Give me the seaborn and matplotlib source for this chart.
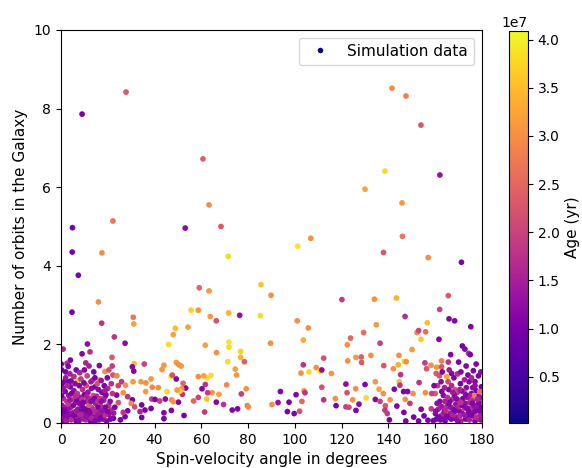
import numpy as np
import pandas as pd
import matplotlib
matplotlib.use("Agg")
import matplotlib.pyplot as plt
from matplotlib.colors import Normalize
from matplotlib.cm import ScalarMappable
from matplotlib.lines import Line2D
import seaborn as sns

# (spin-velocity angle [deg], number of orbits, age [1e7 yr])
upper_points = [
    (9.0, 7.86, 1.0), (27.8, 8.42, 2.3), (60.7, 6.72, 2.4), (63.3, 5.55, 3.0),
    (68.4, 5.00, 2.3), (53.1, 4.96, 1.2), (22.2, 5.14, 2.7), (4.9, 4.97, 1.0),
    (4.8, 4.35, 1.0), (7.4, 3.76, 1.0), (17.5, 4.33, 3.0), (71.5, 4.24, 3.8),
    (101.2, 4.50, 3.9), (106.8, 4.70, 3.0), (130.0, 5.95, 3.2), (138.5, 6.41, 3.8),
    (141.5, 8.52, 3.0), (147.5, 8.32, 2.8), (153.9, 7.58, 2.3), (162.0, 6.31, 1.3),
    (145.8, 5.60, 3.1), (146.0, 4.75, 2.7), (137.9, 4.34, 2.3), (157.0, 4.21, 3.0),
    (171.2, 4.09, 1.0), (59.1, 3.44, 2.5), (63.3, 3.36, 3.1), (85.5, 3.52, 3.6),
    (89.8, 3.25, 3.0), (16.0, 3.08, 3.0), (4.7, 2.82, 1.0), (55.6, 2.87, 3.7),
    (58.7, 2.87, 3.1), (71.7, 2.80, 3.4), (76.4, 2.74, 1.3), (85.2, 2.73, 3.8),
    (63.8, 2.71, 3.1), (66.4, 2.60, 2.2), (30.9, 2.69, 2.7), (31.1, 2.52, 3.2),
    (17.4, 2.54, 1.8), (54.3, 2.44, 3.2), (48.9, 2.41, 3.5), (48.0, 2.25, 3.2),
    (120.1, 3.14, 1.9), (134.0, 3.15, 3.0), (143.4, 3.18, 3.4), (165.6, 3.24, 2.3),
    (161.9, 2.89, 2.0), (147.1, 2.71, 1.7), (165.9, 2.65, 1.1), (168.3, 2.60, 1.1),
    (175.2, 2.45, 1.0), (101.0, 2.60, 3.0), (105.7, 2.42, 3.0), (134.8, 2.50, 3.1),
    (156.6, 2.55, 3.5),
]

middle_points = [
    (46.0, 2.00, 3.8), (22.8, 2.19, 1.8), (27.4, 2.03, 1.2), (0.9, 1.88, 1.6),
    (11.3, 2.01, 1.2), (9.0, 1.76, 1.1), (12.4, 1.81, 1.7), (61.7, 1.98, 3.2),
    (66.5, 1.79, 3.0), (71.8, 2.06, 3.9), (71.8, 1.93, 3.8), (76.8, 1.82, 3.7),
    (76.8, 1.67, 3.4), (78.4, 1.56, 2.4), (71.3, 1.56, 3.8), (89.6, 2.03, 3.0),
    (74.5, 1.37, 3.2), (75.1, 1.22, 3.1), (64.1, 1.21, 3.8), (62.5, 1.15, 3.8),
    (43.2, 1.36, 3.1), (44.0, 1.47, 3.1), (47.0, 1.18, 3.9), (47.6, 1.22, 2.2),
    (49.3, 1.54, 3.1), (50.4, 1.48, 3.0), (51.4, 1.45, 3.1), (38.5, 1.12, 3.1),
    (35.6, 1.50, 2.0), (31.3, 1.51, 3.5), (30.5, 1.43, 1.2), (31.1, 1.32, 1.1),
    (30.8, 1.05, 3.1), (34.2, 1.05, 3.1), (36.3, 1.02, 3.0), (21.8, 1.67, 2.3),
    (21.9, 1.45, 1.9), (18.8, 1.31, 3.0), (20.5, 1.35, 2.2), (22.2, 1.22, 2.2),
    (23.9, 1.20, 2.9), (25.9, 1.05, 1.8), (27.6, 0.96, 3.0), (16.4, 1.46, 1.1),
    (10.6, 1.53, 1.6), (4.0, 1.60, 1.0), (2.6, 1.52, 1.6), (3.1, 1.44, 1.1),
    (0.1, 1.50, 1.0), (0.3, 1.35, 1.0), (1.7, 1.07, 1.0), (4.3, 1.07, 1.1),
    (7.1, 1.07, 3.5), (13.5, 1.09, 1.9), (16.4, 1.09, 3.0), (49.3, 1.12, 1.1),
    (58.7, 1.18, 3.0), (61.0, 1.20, 3.2), (103.6, 2.11, 3.3), (129.4, 2.30, 2.6),
    (123.8, 2.16, 2.5), (122.4, 1.99, 3.0), (136.4, 2.03, 2.0), (152.2, 2.30, 3.0),
    (152.9, 2.35, 2.0), (155.9, 2.32, 2.6), (153.9, 2.13, 3.6), (161.6, 2.13, 1.1),
    (171.6, 1.96, 1.0), (172.7, 1.88, 1.1), (174.3, 1.77, 1.7), (175.0, 1.74, 1.0),
    (150.1, 1.87, 3.1), (144.5, 1.72, 3.0), (146.8, 1.57, 3.8), (147.6, 1.56, 3.0),
    (144.2, 1.48, 3.4), (138.0, 1.46, 2.3), (142.1, 1.38, 3.0), (145.2, 1.23, 1.8),
    (132.5, 1.72, 3.0), (126.1, 1.67, 3.1), (128.4, 1.68, 2.4), (128.5, 1.54, 2.3),
    (122.6, 1.58, 3.0), (112.3, 1.65, 2.2), (103.6, 1.48, 1.8), (102.6, 1.27, 3.0),
    (109.1, 1.41, 3.0), (110.9, 1.31, 3.8), (111.5, 1.35, 1.2), (106.0, 1.30, 3.8),
    (115.6, 1.26, 3.1), (155.6, 1.53, 1.9), (156.3, 1.38, 2.3), (158.2, 1.47, 3.0),
    (160.6, 1.42, 3.1), (162.7, 1.43, 2.3), (162.7, 1.58, 2.8), (165.6, 1.55, 1.8),
    (166.6, 1.74, 1.1), (173.2, 1.45, 1.1), (176.3, 1.33, 1.0), (160.4, 1.26, 2.3),
    (164.9, 1.18, 3.2), (167.0, 1.26, 1.1), (134.4, 1.05, 3.1), (144.6, 1.05, 3.5),
    (153.1, 1.03, 1.8),
]

lower_points = [
    (70.8, 0.97, 2.9), (79.2, 0.87, 3.0), (64.6, 0.77, 3.1), (67.5, 0.73, 3.2),
    (62.3, 0.61, 3.6), (62.7, 0.77, 1.9), (66.4, 0.53, 1.1), (69.5, 0.47, 1.8),
    (73.2, 0.33, 1.1), (75.5, 0.36, 1.1), (79.7, 0.44, 2.6), (80.1, 0.41, 3.0),
    (90.2, 0.47, 3.0), (77.1, 0.74, 1.9), (61.7, 0.98, 1.8), (60.3, 0.87, 1.1),
    (58.7, 0.65, 2.0), (56.7, 0.56, 2.5), (61.4, 0.28, 1.9), (52.6, 0.19, 1.0),
    (47.2, 0.32, 1.0), (44.0, 0.26, 1.1), (44.0, 0.11, 1.0), (50.2, 0.53, 1.1),
    (51.9, 0.73, 1.8), (53.3, 0.89, 1.1), (52.2, 1.01, 2.5), (51.6, 0.87, 3.0),
    (50.9, 0.81, 3.7), (49.6, 0.84, 3.1), (47.3, 0.59, 3.0), (48.0, 0.54, 3.1),
    (45.3, 0.80, 3.8), (42.2, 0.56, 2.0), (44.6, 0.61, 1.2), (41.6, 0.90, 3.0),
    (38.8, 0.61, 1.9), (40.2, 0.60, 1.1), (39.0, 0.91, 2.9), (36.2, 0.80, 3.1),
    (23.8, 0.71, 1.1), (26.6, 0.77, 3.0), (28.5, 0.67, 1.8), (30.5, 0.59, 1.0),
    (34.5, 0.46, 1.0), (35.9, 0.33, 1.0), (38.5, 0.37, 1.0), (34.5, 0.14, 1.0),
    (27.4, 0.16, 1.0), (25.4, 0.08, 1.0), (22.4, 0.12, 1.0), (28.5, 0.31, 1.0),
    (26.6, 0.27, 1.8), (33.8, 0.29, 1.5), (21.4, 0.33, 1.7), (20.4, 0.45, 1.8),
    (18.8, 0.67, 1.6), (24.5, 0.52, 2.2), (30.0, 0.50, 3.0), (31.5, 0.41, 2.2),
    (111.5, 0.91, 2.2), (103.9, 0.82, 3.1), (104.3, 0.77, 1.8), (100.5, 0.72, 1.1),
    (93.8, 0.80, 1.1), (92.8, 0.52, 1.3), (97.5, 0.53, 1.0), (103.0, 0.55, 2.5),
    (96.8, 0.29, 1.0), (99.7, 0.24, 1.0), (102.0, 0.30, 2.2), (112.3, 0.59, 1.8),
    (117.3, 0.62, 3.0), (117.6, 0.44, 1.0), (121.8, 0.99, 1.2), (122.3, 0.77, 2.2),
    (126.0, 0.87, 3.0), (130.0, 0.98, 1.1), (124.7, 0.59, 3.0), (121.8, 0.41, 2.0),
    (123.1, 0.40, 2.1), (126.1, 0.32, 1.1), (127.4, 0.48, 1.2), (130.4, 0.64, 3.8),
    (136.0, 0.86, 3.2), (137.8, 0.75, 3.0), (142.5, 0.86, 1.1), (144.9, 0.96, 1.8),
    (146.5, 0.80, 1.0), (148.2, 0.80, 1.1), (150.5, 0.75, 3.0), (155.8, 0.77, 3.0),
    (134.4, 0.60, 1.1), (136.4, 0.55, 2.0), (138.7, 0.44, 2.3), (140.7, 0.59, 3.0),
    (143.6, 0.43, 1.1), (147.2, 0.60, 3.0), (149.2, 0.50, 1.9), (138.5, 0.33, 1.9),
    (139.5, 0.24, 1.9), (140.4, 0.08, 1.0), (146.6, 0.27, 1.0), (147.4, 0.05, 1.0),
    (150.8, 0.15, 1.0), (152.9, 0.05, 1.0), (155.2, 0.18, 1.0), (156.9, 0.07, 1.0),
    (159.2, 0.06, 1.0), (154.0, 0.35, 1.1), (158.3, 0.36, 1.9), (160.1, 0.24, 1.0),
]

left_cluster = [
    (0.5, 0.05, 1.0), (1.2, 0.15, 1.4), (2.0, 0.30, 1.1), (2.8, 0.08, 1.6), (3.5, 0.22, 0.9),
    (4.2, 0.40, 1.5), (5.0, 0.12, 1.2), (5.8, 0.28, 1.7), (6.5, 0.05, 1.0), (7.2, 0.35, 1.3),
    (8.0, 0.18, 1.8), (8.8, 0.45, 1.1), (9.5, 0.10, 1.5), (10.3, 0.30, 1.0), (11.0, 0.55, 1.6),
    (11.8, 0.20, 1.2), (12.5, 0.06, 0.9), (13.3, 0.38, 1.7), (14.0, 0.15, 1.1), (14.8, 0.50, 1.4),
    (15.5, 0.25, 1.0), (16.3, 0.08, 1.3), (17.0, 0.42, 1.8), (17.8, 0.18, 1.0), (18.6, 0.32, 1.5),
    (19.5, 0.05, 1.1), (0.3, 0.45, 1.2), (1.0, 0.62, 1.6), (1.8, 0.80, 1.0), (2.5, 0.55, 1.8),
    (3.3, 0.70, 1.3), (4.0, 0.92, 1.1), (4.8, 0.60, 2.0), (5.5, 0.82, 1.2), (6.3, 0.52, 1.5),
    (7.0, 0.75, 1.9), (7.8, 0.95, 1.1), (8.5, 0.65, 1.4), (9.2, 0.85, 1.7), (10.0, 0.72, 1.0),
    (10.8, 0.95, 2.1), (11.5, 0.78, 1.3), (12.2, 0.62, 1.8), (13.0, 0.88, 1.2), (13.8, 0.70, 2.2),
    (14.5, 0.92, 1.0), (15.2, 0.68, 1.6), (16.0, 0.85, 1.2), (16.8, 0.62, 2.0), (17.5, 0.78, 1.1),
    (18.3, 0.58, 1.5), (19.2, 0.72, 1.0), (0.8, 0.28, 0.8), (1.6, 0.40, 1.5), (2.4, 0.18, 1.2),
    (3.1, 0.50, 1.9), (3.9, 0.10, 1.0), (4.6, 0.25, 1.3), (5.3, 0.45, 1.1), (6.1, 0.20, 1.6),
    (6.8, 0.58, 1.0), (7.5, 0.12, 1.4), (8.3, 0.30, 1.0), (9.0, 0.60, 1.8), (9.8, 0.22, 1.2),
    (10.6, 0.08, 1.6), (11.3, 0.35, 1.0), (12.0, 0.45, 2.3), (12.8, 0.25, 1.3), (13.6, 0.05, 1.0),
    (14.3, 0.30, 1.7), (15.0, 0.10, 1.2), (15.8, 0.40, 1.0), (16.6, 0.28, 1.5), (18.0, 0.10, 1.2),
    (19.0, 0.40, 1.0), (20.5, 0.22, 1.3), (0.5, 1.00, 1.0), (2.0, 1.15, 1.4), (3.5, 1.05, 1.0),
    (5.5, 1.18, 1.7), (6.0, 1.00, 1.2), (8.5, 1.12, 1.9), (9.8, 1.02, 1.1), (11.2, 1.20, 2.0),
    (12.8, 1.05, 1.4), (14.5, 1.15, 1.0), (15.5, 1.00, 2.2), (17.2, 1.08, 1.3), (18.5, 0.95, 1.0),
    (20.0, 0.88, 1.6), (21.0, 0.55, 1.2), (22.0, 0.75, 1.8), (23.0, 0.40, 1.0), (24.5, 0.95, 2.0),
    (19.8, 1.15, 1.1), (21.5, 1.00, 1.7), (0.2, 0.20, 1.1), (1.5, 0.02, 1.0), (3.0, 0.35, 1.3),
    (2.0, 1.30, 1.0), (3.8, 1.25, 1.5), (6.5, 1.35, 1.0), (8.0, 1.28, 1.6), (10.0, 1.35, 1.1),
    (12.0, 1.45, 1.5), (14.0, 1.30, 1.0),
    (0.4, 0.12, 1.3), (1.4, 0.33, 1.0), (2.3, 0.05, 1.5), (3.2, 0.15, 1.2), (4.4, 0.08, 1.7),
    (5.6, 0.20, 1.0), (6.6, 0.30, 1.4), (7.6, 0.05, 1.2), (8.6, 0.22, 1.6), (9.6, 0.38, 1.0),
    (10.8, 0.15, 1.3), (12.2, 0.28, 1.1), (13.2, 0.12, 1.6), (14.6, 0.05, 1.1), (15.6, 0.18, 1.4),
    (16.8, 0.12, 1.0), (17.6, 0.30, 1.3), (18.8, 0.20, 1.7), (19.8, 0.30, 1.1), (21.2, 0.10, 1.0),
    (22.5, 0.25, 1.4), (1.0, 0.88, 1.3), (2.8, 0.95, 1.6), (4.5, 0.75, 1.0), (6.2, 0.68, 1.7),
    (7.8, 0.50, 1.2), (9.5, 0.52, 1.0), (11.0, 0.68, 1.5), (12.8, 0.55, 1.2), (14.2, 0.62, 1.0),
    (15.8, 0.55, 1.8), (17.2, 0.55, 1.2), (18.8, 0.82, 1.4), (0.2, 0.70, 1.0), (3.8, 0.58, 1.4),
]

right_cluster = [
    (160.5, 0.10, 1.0), (161.3, 0.35, 1.5), (162.0, 0.55, 1.1), (162.8, 0.20, 1.7), (163.5, 0.70, 1.2),
    (164.2, 0.05, 0.9), (165.0, 0.42, 1.6), (165.8, 0.85, 1.1), (166.5, 0.25, 1.4), (167.2, 0.60, 1.8),
    (168.0, 0.12, 1.0), (168.8, 0.48, 1.3), (169.5, 0.78, 1.9), (170.3, 0.30, 1.1), (171.0, 0.05, 1.5),
    (171.8, 0.62, 1.0), (172.5, 0.38, 1.7), (173.3, 0.90, 1.2), (174.0, 0.18, 1.0), (174.8, 0.52, 1.6),
    (175.5, 0.75, 1.1), (176.3, 0.28, 1.4), (177.0, 0.05, 1.0), (177.8, 0.45, 1.8), (178.5, 0.68, 1.2),
    (179.3, 0.22, 1.5), (179.7, 0.92, 1.0), (160.0, 0.75, 2.3), (161.0, 0.95, 1.9), (162.5, 1.05, 1.2),
    (163.2, 0.40, 2.0), (164.0, 0.90, 1.5), (164.8, 0.18, 1.1), (165.5, 1.05, 2.1), (166.2, 0.55, 1.0),
    (167.0, 0.95, 1.6), (167.8, 0.35, 1.1), (168.5, 0.85, 2.2), (169.2, 0.15, 1.3), (170.0, 0.58, 1.7),
    (170.8, 1.00, 1.0), (171.5, 0.25, 1.2), (172.2, 0.80, 1.9), (173.0, 0.10, 1.0), (173.8, 0.65, 1.4),
    (174.5, 1.05, 1.1), (175.2, 0.38, 1.8), (176.0, 0.90, 1.2), (176.8, 0.15, 1.6), (177.5, 0.82, 1.0),
    (178.2, 0.35, 1.3), (179.0, 0.55, 2.0), (179.5, 0.08, 1.1), (160.8, 0.50, 1.2), (162.2, 0.08, 1.0),
    (163.8, 0.28, 1.3), (165.2, 0.65, 1.8), (166.8, 0.10, 1.0), (168.2, 0.70, 1.2), (169.8, 0.40, 1.6),
    (171.2, 0.82, 1.1), (172.8, 0.50, 1.3), (174.2, 0.30, 1.0), (175.8, 0.58, 1.7), (177.2, 0.30, 1.1),
    (178.8, 0.10, 1.4), (179.8, 0.40, 1.0), (158.5, 0.75, 2.0), (159.5, 0.95, 1.1), (161.8, 1.20, 2.2),
    (163.0, 1.30, 1.0), (166.0, 1.35, 1.4), (168.0, 1.15, 1.0), (169.5, 1.25, 1.7), (171.0, 1.30, 1.1),
    (172.5, 1.10, 1.5), (174.0, 1.22, 1.0), (175.5, 1.15, 1.6), (177.0, 1.05, 1.1), (178.5, 1.20, 1.0),
    (179.5, 1.30, 1.2), (170.0, 1.55, 1.0), (177.5, 1.50, 1.1), (179.0, 0.80, 2.6), (176.5, 0.70, 2.8),
    (160.2, 0.30, 1.2), (161.5, 0.15, 1.0), (162.6, 0.42, 1.4), (163.6, 0.10, 1.1), (164.6, 0.32, 1.7),
    (165.6, 0.15, 1.0), (166.6, 0.40, 1.3), (167.6, 0.20, 1.6), (168.6, 0.30, 1.0), (169.6, 0.05, 1.2),
    (170.6, 0.18, 1.7), (171.6, 0.45, 1.0), (172.6, 0.20, 1.4), (173.6, 0.38, 1.1), (174.6, 0.08, 1.5),
    (175.6, 0.20, 1.0), (176.6, 0.42, 1.3), (177.6, 0.15, 1.7), (178.6, 0.50, 1.0), (179.6, 0.65, 1.4),
    (179.2, 0.32, 1.1), (178.0, 0.60, 1.6), (176.0, 0.50, 1.0), (174.6, 0.70, 1.5), (173.0, 0.72, 1.1),
    (171.0, 0.52, 1.8), (169.0, 0.62, 1.1), (167.5, 0.78, 1.4), (165.8, 0.50, 1.0), (164.2, 0.55, 1.5),
    (162.8, 0.80, 1.0), (170.5, 0.85, 1.5), (177.0, 0.95, 1.3),
]

x_ticks = [0, 20, 40, 60, 80, 100, 120, 140, 160, 180]
y_ticks = [0, 2, 4, 6, 8, 10]
age_ticks = [0.5e7, 1.0e7, 1.5e7, 2.0e7, 2.5e7, 3.0e7, 3.5e7, 4.0e7]
age_min, age_max = 0.02e7, 4.09e7

records = upper_points + middle_points + lower_points + left_cluster + right_cluster
df = pd.DataFrame(records, columns=["angle", "orbits", "age_e7"])
df["age"] = df["age_e7"] * 1e7

fig = plt.figure(figsize=(5.82, 4.68), dpi=100)
ax = fig.add_axes([61 / 582, 1 - 423 / 468, 421 / 582, 393 / 468])
cax = fig.add_axes([509 / 582, 1 - 423 / 468, 19 / 582, 392 / 468])

norm = Normalize(vmin=age_min, vmax=age_max)
sns.scatterplot(data=df, x="angle", y="orbits", hue="age", palette="plasma",
                hue_norm=norm, s=17, linewidth=0, legend=False, ax=ax)

ax.set_xlim(0, 180)
ax.set_ylim(0, 10)
ax.set_xticks(x_ticks)
ax.set_yticks(y_ticks)
ax.set_xlabel("Spin-velocity angle in degrees", fontsize=11)
ax.set_ylabel("Number of orbits in the Galaxy", fontsize=11)

handle = Line2D([], [], linestyle="none", marker="o", markersize=4,
                markerfacecolor=plt.get_cmap("plasma")(0.0), markeredgewidth=0)
ax.legend([handle], ["Simulation data"], loc="upper right", fontsize=11)

sm = ScalarMappable(norm=norm, cmap="plasma")
cbar = fig.colorbar(sm, cax=cax, ticks=age_ticks)
cbar.set_label("Age (yr)", fontsize=11)

fig.savefig("out.png", dpi=100)
